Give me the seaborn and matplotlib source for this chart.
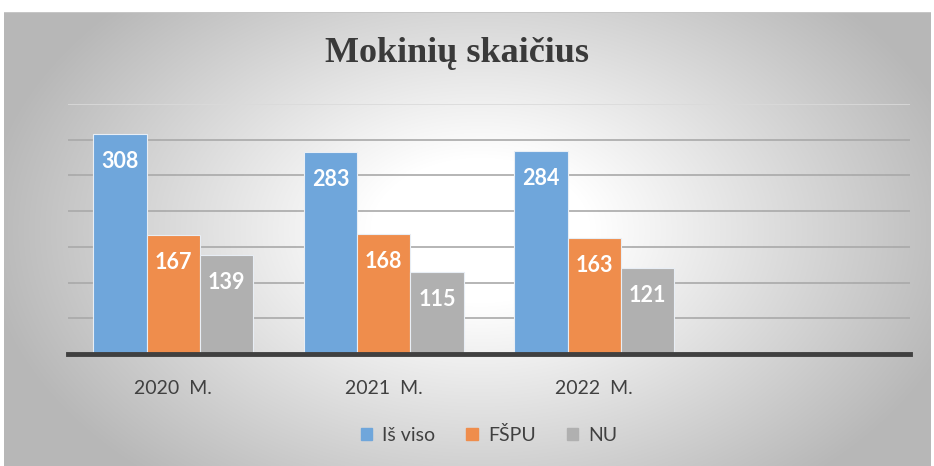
import numpy as np
import pandas as pd
import matplotlib
matplotlib.use("Agg")
import matplotlib.pyplot as plt
import seaborn as sns

# duomenys
metai = ["2020  M.", "2021  M.", "2022  M."]
serijos = ["Iš viso", "FŠPU", "NU"]
is_viso = [308, 283, 284]
fspu = [167, 168, 163]
nu = [139, 115, 121]

spalvos = ["#6fa6db", "#ef8d4c", "#b0b0b0"]

df = pd.DataFrame({
    "Metai": metai * 3,
    "Serija": [serijos[0]] * 3 + [serijos[1]] * 3 + [serijos[2]] * 3,
    "Reiksme": is_viso + fspu + nu,
})

sns.set_style("white")
plt.rcParams["font.family"] = ["Lato", "DejaVu Sans"]

W, H = 934, 466
fig = plt.figure(figsize=(W / 100, H / 100), dpi=100)

# fonas - radialinis gradientas
bg = fig.add_axes([0, 0, 1, 1])
yy, xx = np.mgrid[0:H, 0:W]
r = np.sqrt(((xx - 480) / 500.0) ** 2 + ((yy - 230) / 330.0) ** 2)
val = 255 - 72 * np.clip((r - 0.22) / 0.78, 0, 1)
img = np.dstack([val, val, val]) / 255.0
img[:12, :, :] = 1.0
img[:, :4, :] = 1.0
img[:, 931:, :] = 1.0
img[12:13, 4:931, :] = 0.78
bg.imshow(img, aspect="auto", extent=[0, W, H, 0])
bg.set_axis_off()

ax = fig.add_axes([68 / W, (H - 354) / H, (910 - 68) / W, (354 - 104) / H])
ax.patch.set_alpha(0)

sns.barplot(data=df, x="Metai", y="Reiksme", hue="Serija", hue_order=serijos,
            palette=spalvos, width=0.76, saturation=1, edgecolor="#e8eef5",
            linewidth=0.8, ax=ax, legend=False, zorder=3)

ax.set_xlim(-0.5, 3.5)
ax.set_ylim(0, 350)
ax.set_yticks(range(50, 351, 50))
ax.yaxis.grid(True, color="#a9a9a9", linewidth=1.2, zorder=0)
ax.get_ygridlines()[-1].set_color("#dadada")
ax.set_yticklabels([])
ax.tick_params(axis="y", length=0)
ax.tick_params(axis="x", length=0, pad=19, labelsize=14, labelcolor="#404040")
ax.set_xlabel("")
ax.set_ylabel("")
for s in ["top", "right", "left"]:
    ax.spines[s].set_visible(False)
ax.spines["bottom"].set_color("#404040")
ax.spines["bottom"].set_linewidth(3.5)
ax.spines["bottom"].set_zorder(5)

for cont in ax.containers:
    for bar in cont:
        h = bar.get_height()
        ax.annotate(f"{int(h)}", (bar.get_x() + bar.get_width() / 2, h),
                    xytext=(0, -20), textcoords="offset points",
                    ha="center", va="center", color="white",
                    fontsize=15.5, fontweight="bold", zorder=6)

fig.text(457 / W, 1 - 54 / H, "Mokinių skaičius", ha="center", va="center",
         fontsize=26, fontweight="bold", family="Liberation Serif", color="#3a3a3a")

handles = [plt.Rectangle((0, 0), 1, 1, color=c) for c in spalvos]
fig.legend(handles, serijos, loc="center", bbox_to_anchor=(489 / W, 1 - 435 / H),
           ncol=3, frameon=False, fontsize=14, handlelength=0.6, handleheight=0.6,
           handletextpad=0.5, columnspacing=1.6, labelcolor="#404040")

fig.savefig("out.png", dpi=100)
